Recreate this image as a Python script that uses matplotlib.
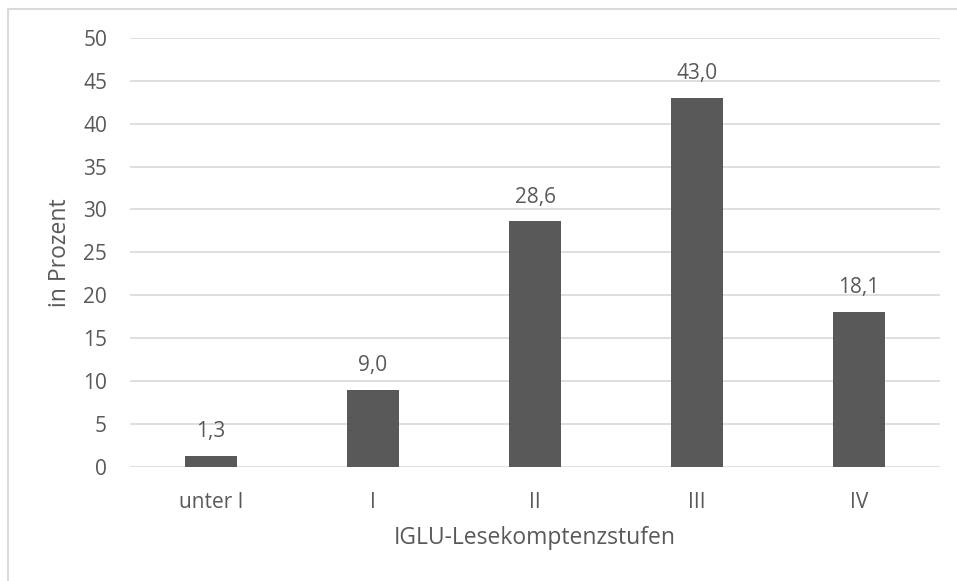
import matplotlib.pyplot as plt
from matplotlib.patches import Rectangle

categories = ['unter I', 'I', 'II', 'III', 'IV']
values = [1.3, 9.0, 28.6, 43.0, 18.1]
value_labels = ['1,3', '9,0', '28,6', '43,0', '18,1']
yticks = [0, 5, 10, 15, 20, 25, 30, 35, 40, 45, 50]

plt.rcParams['font.family'] = ['Open Sans', 'DejaVu Sans']
txt = '#595959'

fig = plt.figure(figsize=(9.57, 5.81), dpi=100)
ax = fig.add_axes([130 / 957, (581 - 466.7) / 581, 810 / 957, (466.7 - 38) / 581])

x = range(len(categories))
ax.bar(x, values, width=0.315, color='#595959', zorder=3)
for xi, v, lab in zip(x, values, value_labels):
    ax.annotate(lab, (xi, v), xytext=(0, 13.5), textcoords='offset points',
                ha='center', va='baseline', fontsize=15, color=txt)

ax.set_xlim(-0.5, len(categories) - 0.5)
ax.set_ylim(0, 50)
ax.set_yticks(yticks)
ax.set_xticks(list(x))
ax.set_xticklabels(categories)
ax.tick_params(length=0, labelsize=15, labelcolor=txt)
ax.tick_params(axis='x', pad=18)
ax.tick_params(axis='y', pad=16.5)
ax.grid(axis='y', color='#d9d9d9', linewidth=1.2, zorder=0)
for s in ax.spines.values():
    s.set_visible(False)

ax.set_ylabel('in Prozent', fontsize=16.5, color=txt, labelpad=8)
ax.set_xlabel('IGLU-Lesekomptenzstufen', fontsize=16.5, color=txt, labelpad=9.5)

# outer chart frame (only left and top edges visible in the picture)
fig.patches.append(Rectangle((8 / 957, -0.05), 1.0, (581 - 9) / 581 + 0.05,
                             transform=fig.transFigure, fill=False,
                             edgecolor='#d9d9d9', linewidth=1.5))

fig.savefig('out.png', dpi=100)
